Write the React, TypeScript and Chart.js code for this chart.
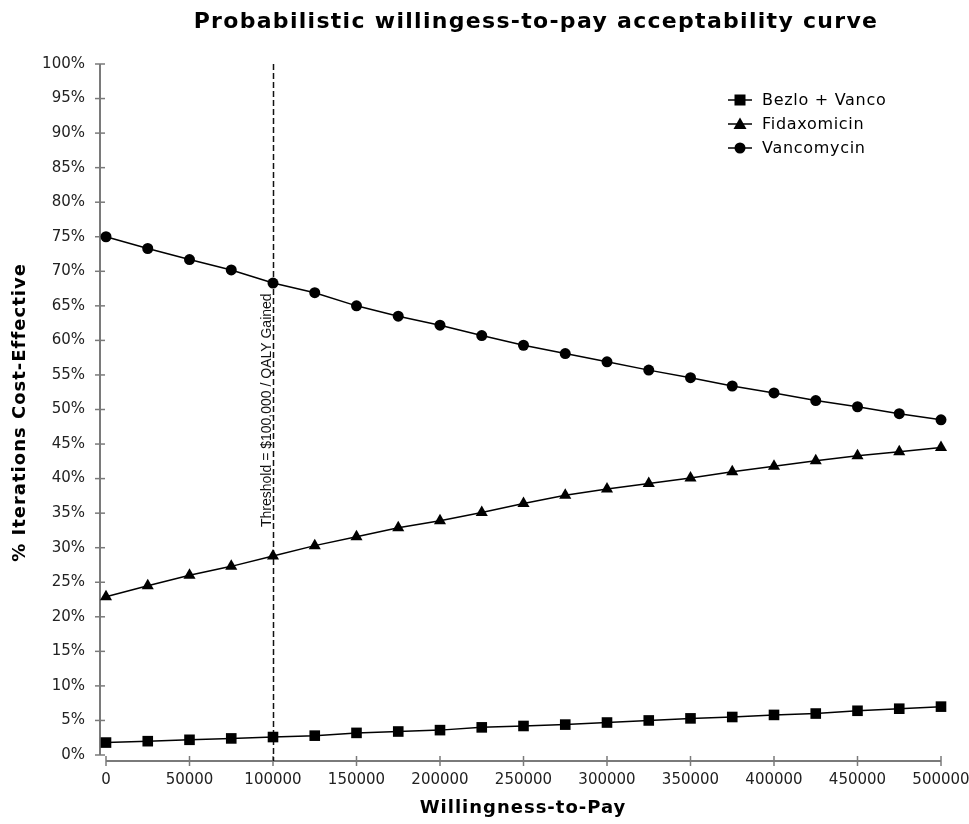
import React, { useEffect, useRef } from 'react';
import { Chart, registerables } from 'chart.js';

Chart.register(...registerables);

// Willingness-to-pay thresholds (x values)
const wtp = [0, 25000, 50000, 75000, 100000, 125000, 150000, 175000, 200000, 225000, 250000,
  275000, 300000, 325000, 350000, 375000, 400000, 425000, 450000, 475000, 500000];

// % of iterations cost-effective
const bezloVanco = [1.8, 2.0, 2.2, 2.4, 2.6, 2.8, 3.2, 3.4, 3.6, 4.0, 4.2, 4.4, 4.7, 5.0, 5.3, 5.5, 5.8, 6.0, 6.4, 6.7, 7.0];
const fidaxomicin = [22.9, 24.5, 26.0, 27.3, 28.8, 30.3, 31.6, 32.9, 33.9, 35.1, 36.4, 37.6, 38.5, 39.3, 40.1, 41.0, 41.8, 42.6, 43.3, 43.9, 44.5];
const vancomycin = [75.0, 73.3, 71.7, 70.2, 68.3, 66.9, 65.0, 63.5, 62.2, 60.7, 59.3, 58.1, 56.9, 55.7, 54.6, 53.4, 52.4, 51.3, 50.4, 49.4, 48.5];

const seriesNames = ['Bezlo + Vanco', 'Fidaxomicin', 'Vancomycin'];
const pointStyles = ['rect', 'triangle', 'circle'];
const pointRadii = [7.5, 7, 5.5];

const thresholdValue = 100000;
const thresholdLabel = 'Threshold = $100,000 / QALY Gained';
const chartTitle = 'Probabilistic willingess-to-pay acceptability curve';
const xTitle = 'Willingness-to-Pay';
const yTitle = '% Iterations Cost-Effective';

const AXIS_COLOR = '#7a7a7a';
const FONT = '"DejaVu Sans", Verdana, sans-serif';

const decorPlugin = {
  id: 'decor',
  beforeDatasetsDraw(chart: any) {
    const { ctx, scales } = chart;
    const x = scales.x;
    const y = scales.y;
    ctx.save();
    // Y axis (detached, slightly left of x=0)
    const axisX = x.getPixelForValue(0) - 6;
    ctx.strokeStyle = AXIS_COLOR;
    ctx.lineWidth = 2;
    ctx.beginPath();
    ctx.moveTo(axisX, y.getPixelForValue(100));
    ctx.lineTo(axisX, y.getPixelForValue(0));
    ctx.stroke();
    ctx.lineWidth = 1.5;
    y.ticks.forEach((t: any) => {
      const py = y.getPixelForValue(t.value);
      ctx.beginPath();
      ctx.moveTo(axisX - 5, py);
      ctx.lineTo(axisX + 5, py);
      ctx.stroke();
    });
    // X axis (detached, slightly below 0%)
    const axisY = y.getPixelForValue(0) + 6;
    ctx.lineWidth = 2;
    ctx.beginPath();
    ctx.moveTo(x.getPixelForValue(0), axisY);
    ctx.lineTo(x.getPixelForValue(500000), axisY);
    ctx.stroke();
    ctx.lineWidth = 1.5;
    x.ticks.forEach((t: any) => {
      const px = x.getPixelForValue(t.value);
      ctx.beginPath();
      ctx.moveTo(px, axisY - 5);
      ctx.lineTo(px, axisY + 5);
      ctx.stroke();
    });
    // Threshold line
    const tx = Math.round(x.getPixelForValue(thresholdValue)) + 0.5;
    ctx.strokeStyle = '#111';
    ctx.lineWidth = 1.5;
    ctx.setLineDash([6, 3]);
    ctx.beginPath();
    ctx.moveTo(tx, y.getPixelForValue(100));
    ctx.lineTo(tx, axisY);
    ctx.stroke();
    ctx.setLineDash([]);
    // Threshold label
    ctx.save();
    ctx.translate(tx - 3, 527);
    ctx.rotate(-Math.PI / 2);
    ctx.fillStyle = '#111';
    ctx.font = '14px "Liberation Sans", Arial, sans-serif';
    ctx.textAlign = 'left';
    ctx.textBaseline = 'alphabetic';
    ctx.fillText(thresholdLabel, 0, 0);
    ctx.restore();
    ctx.restore();
  },
  afterDraw(chart: any) {
    const { ctx, scales } = chart;
    const y = scales.y;
    ctx.save();
    ctx.fillStyle = '#000';
    ctx.textAlign = 'center';
    ctx.textBaseline = 'middle';
    // Main title
    ctx.font = 'bold 22px ' + FONT;
    (ctx as any).letterSpacing = '1.3px';
    ctx.fillText(chartTitle, 536, 22);
    // X title
    ctx.font = 'bold 18px ' + FONT;
    (ctx as any).letterSpacing = '1px';
    ctx.fillText(xTitle, 523, 808);
    // Y title
    ctx.save();
    ctx.translate(20, (y.getPixelForValue(100) + y.getPixelForValue(0)) / 2 + 3);
    ctx.rotate(-Math.PI / 2);
    ctx.fillText(yTitle, 0, 0);
    ctx.restore();
    // Legend
    const lx = 740;
    const rowsY = [100, 124, 148];
    chart.data.datasets.forEach((ds: any, i: number) => {
      const ry = rowsY[i];
      ctx.strokeStyle = '#000';
      ctx.lineWidth = 1.5;
      ctx.beginPath();
      ctx.moveTo(lx - 12, ry);
      ctx.lineTo(lx + 12, ry);
      ctx.stroke();
      ctx.fillStyle = '#000';
      const style = ds.pointStyle;
      if (style === 'rect') {
        ctx.fillRect(lx - 5.5, ry - 5.5, 11, 11);
      } else if (style === 'triangle') {
        ctx.beginPath();
        ctx.moveTo(lx, ry - 6.5);
        ctx.lineTo(lx + 6.5, ry + 5);
        ctx.lineTo(lx - 6.5, ry + 5);
        ctx.closePath();
        ctx.fill();
      } else {
        ctx.beginPath();
        ctx.arc(lx, ry, 5.5, 0, Math.PI * 2);
        ctx.fill();
      }
      ctx.font = '16px ' + FONT;
      (ctx as any).letterSpacing = '0.7px';
      ctx.textAlign = 'left';
      ctx.textBaseline = 'middle';
      ctx.fillText(ds.label, 762, ry + 1);
    });
    (ctx as any).letterSpacing = '0px';
    ctx.restore();
  },
};

export default function App() {
  const canvasRef = useRef<HTMLCanvasElement | null>(null);

  useEffect(() => {
    const canvas = canvasRef.current;
    if (!canvas) return;
    const seriesData = [bezloVanco, fidaxomicin, vancomycin];
    const chart = new Chart(canvas, {
      type: 'line',
      data: {
        datasets: seriesData.map((vals, i) => ({
          label: seriesNames[i],
          data: vals.map((v, j) => ({ x: wtp[j], y: v })),
          borderColor: '#000',
          backgroundColor: '#000',
          borderWidth: 1.5,
          pointStyle: pointStyles[i] as any,
          pointRadius: pointRadii[i],
          pointBackgroundColor: '#000',
          pointBorderColor: '#000',
          pointBorderWidth: 0,
          tension: 0,
          fill: false,
          clip: false as any,
        })),
      },
      options: {
        animation: false,
        responsive: false,
        maintainAspectRatio: false,
        layout: { padding: { top: 64, right: 28, bottom: 0, left: 0 } },
        plugins: {
          legend: { display: false },
          title: { display: false },
          tooltip: { enabled: false },
        },
        scales: {
          x: {
            type: 'linear',
            min: 0,
            max: 500000,
            grid: { display: false },
            border: { display: false },
            ticks: {
              stepSize: 50000,
              color: '#222',
              font: { family: FONT, size: 15 },
              padding: 8,
              maxRotation: 0,
              autoSkip: false,
              callback: (v: any) => String(v),
            },
            afterFit: (scale: any) => {
              scale.height = 69;
              scale.paddingLeft = 0;
              scale.paddingRight = 0;
            },
          },
          y: {
            type: 'linear',
            min: 0,
            max: 100,
            grid: { display: false },
            border: { display: false },
            ticks: {
              stepSize: 5,
              color: '#222',
              font: { family: FONT, size: 15 },
              padding: 13,
              autoSkip: false,
              callback: (v: any) => v + '%',
            },
            afterFit: (scale: any) => {
              scale.width = 106;
              scale.paddingTop = 0;
              scale.paddingBottom = 0;
            },
          },
        },
      },
      plugins: [decorPlugin],
    });
    return () => chart.destroy();
  }, []);

  return (
    <div style={{ position: 'absolute', left: 0, top: 0, width: 969, height: 824, background: '#fff' }}>
      <canvas ref={canvasRef} width={969} height={824} style={{ display: 'block' }} />
    </div>
  );
}
